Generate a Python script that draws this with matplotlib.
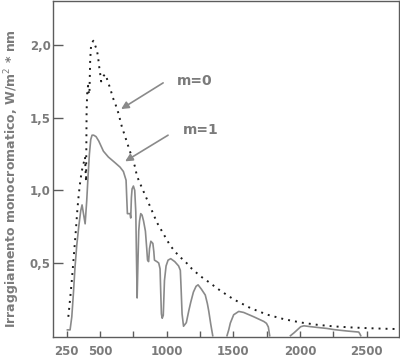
import numpy as np
import matplotlib

matplotlib.use("Agg")
import matplotlib.pyplot as plt

# spettro solare: m=0 (fuori atmosfera, punteggiato) e m=1 (al suolo, continuo)
WL_M0 = [262, 275, 290, 305, 318, 330, 340, 350, 362, 375, 387, 392, 395, 397, 399,
         404, 410, 416, 420, 423, 426, 432, 442, 450, 462, 475, 485, 492, 500, 508,
         517, 528, 540, 562, 580, 595, 613, 638, 663, 688, 713, 738, 763, 776, 813,
         851, 889, 926, 976, 1026, 1089, 1139, 1189, 1252, 1314, 1365, 1402, 1502,
         1628, 1753, 1878, 2004, 2129, 2254, 2380, 2505, 2630, 2718]
IRR_M0 = [0.13, 0.25, 0.40, 0.57, 0.72, 0.87, 0.97, 1.05, 1.13, 1.18, 1.23, 1.12, 1.06, 1.30, 1.55,
          1.68, 1.72, 1.67, 1.66, 1.78, 1.90, 1.99, 2.02, 2.03, 2.00, 1.97, 1.92, 1.86, 1.81, 1.75,
          1.77, 1.79, 1.80, 1.74, 1.69, 1.64, 1.60, 1.53, 1.44, 1.37, 1.30, 1.23, 1.16, 1.10, 1.02,
          0.94, 0.86, 0.78, 0.70, 0.62, 0.55, 0.51, 0.46, 0.41, 0.37, 0.335, 0.31, 0.25,
          0.19, 0.145, 0.114, 0.091, 0.075, 0.064, 0.057, 0.052, 0.048, 0.046]

# nan = interruzione tra le bande di assorbimento
WL_M1 = [255, 275, 288, 300, 312, 325, 340, 355, 365, 372, 388, 400, 410, 420, 430,
         440, 452, 470, 490, 525, 562, 613, 650, 675, 695, 700, 705, 725, 730, 735,
         740, 750, 760, 768, 772, 778, 784, 790, 796, 805, 815, 826, 840, 850, 856,
         864, 871, 881, 896, 903, 908, 926, 940, 950, 955, 960, 966, 974, 983, 995,
         1010, 1030, 1060, 1089, 1102, 1108, 1115, 1126, 1147, 1165, 1180, 1200, 1220, 1235, 1260,
         1289, 1305, 1315, 1330, 1345, np.nan,
         1452, 1465, 1477, 1502, 1540, 1577, 1653, 1728, 1748, 1762, 1772, np.nan,
         1928, 1955, 1979, 2005, 2029, 2080, 2129, 2200, 2254, 2355, 2440, 2450, 2455]
IRR_M1 = [0.04, 0.04, 0.13, 0.29, 0.47, 0.62, 0.75, 0.86, 0.90, 0.86, 0.77, 0.93, 1.10, 1.25, 1.35,
          1.38, 1.38, 1.37, 1.34, 1.27, 1.23, 1.19, 1.16, 1.13, 1.07, 0.95, 0.84, 0.84, 0.81, 0.95,
          1.01, 1.03, 1.00, 0.85, 0.60, 0.26, 0.50, 0.72, 0.79, 0.84, 0.83, 0.79, 0.72, 0.60, 0.52,
          0.51, 0.60, 0.65, 0.635, 0.58, 0.52, 0.51, 0.50, 0.46, 0.30, 0.15, 0.12, 0.14, 0.38, 0.48,
          0.52, 0.53, 0.51, 0.48, 0.45, 0.32, 0.15, 0.065, 0.09, 0.17, 0.23, 0.30, 0.34, 0.35, 0.32,
          0.28, 0.22, 0.17, 0.08, 0.0, np.nan,
          0.0, 0.04, 0.087, 0.144, 0.167, 0.16, 0.13, 0.098, 0.085, 0.06, 0.0, np.nan,
          0.0, 0.02, 0.04, 0.062, 0.068, 0.062, 0.057, 0.05, 0.042, 0.032, 0.025, 0.01, 0.0]

X_TICKS = [250, 500, 750, 1000, 1250, 1500, 1750, 2000, 2250, 2500]
X_TICK_LABELS = ["250", "500", "", "1000", "", "1500", "", "2000", "", "2500"]
Y_TICKS = [0.5, 1.0, 1.5, 2.0]
Y_TICK_LABELS = ["0,5", "1,0", "1,5", "2,0"]

COLOR_FRAME = "#5c5c5c"
COLOR_TEXT = "#7b7b7b"
COLOR_SOLID = "#8a8a8a"
COLOR_DOTS = "#1e1e1e"

fig = plt.figure(figsize=(4.0, 3.58), dpi=100)
ax = fig.add_axes([53 / 400, 1 - 337 / 358, 346 / 400, 336.5 / 358])

ax.plot(WL_M0, IRR_M0, color=COLOR_DOTS, lw=1.4, linestyle=(0, (1, 2.6)))
ax.plot(WL_M1, IRR_M1, color=COLOR_SOLID, lw=1.2)

ax.set_xlim(147, 2742)
ax.set_ylim(-0.009, 2.307)
ax.set_xticks(X_TICKS)
ax.set_xticklabels(X_TICK_LABELS)
ax.set_yticks(Y_TICKS)
ax.set_yticklabels(Y_TICK_LABELS)
ax.tick_params(axis="x", direction="in", length=4, width=1, color=COLOR_FRAME, pad=6,
               labelsize=8.5, labelcolor=COLOR_TEXT)
ax.tick_params(axis="y", direction="in", length=7.5, width=1, color=COLOR_FRAME, pad=1.5,
               labelsize=8.5, labelcolor=COLOR_TEXT)
for lab in ax.get_xticklabels() + ax.get_yticklabels():
    lab.set_fontweight("bold")
for spine in ax.spines.values():
    spine.set_color(COLOR_FRAME)
    spine.set_linewidth(1.0)

fig.text(12.5 / 400, 0.5, "Irraggiamento monocromatico, W/m$^2$ * nm", rotation=90,
         ha="center", va="center", fontsize=9, fontweight="bold", color=COLOR_TEXT)

arrow_style = dict(arrowstyle="-|>", color=COLOR_SOLID, lw=1.2, mutation_scale=11,
                   shrinkA=0, shrinkB=0)
ax.annotate("", xy=(658, 1.56), xytext=(973, 1.74), arrowprops=arrow_style)
ax.annotate("", xy=(688, 1.20), xytext=(1010, 1.38), arrowprops=arrow_style)
ax.text(1079, 1.75, "m=0", ha="left", va="center", fontsize=10, fontweight="bold", color=COLOR_TEXT)
ax.text(1122, 1.415, "m=1", ha="left", va="center", fontsize=10, fontweight="bold", color=COLOR_TEXT)

fig.savefig("out.png", dpi=100, facecolor="white")
